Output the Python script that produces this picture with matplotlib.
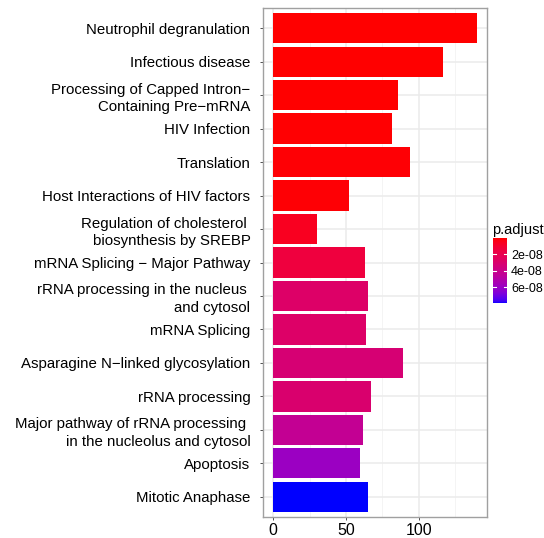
import numpy as np
import matplotlib
matplotlib.use("Agg")
import matplotlib.pyplot as plt
from matplotlib.colors import ListedColormap, Normalize

plt.rcParams['font.family'] = ['Liberation Sans', 'DejaVu Sans']

# enriched pathways, top to bottom
pathways = [
    "Neutrophil degranulation",
    "Infectious disease",
    "Processing of Capped Intron\u2212\nContaining Pre\u2212mRNA",
    "HIV Infection",
    "Translation",
    "Host Interactions of HIV factors",
    "Regulation of cholesterol \nbiosynthesis by SREBP",
    "mRNA Splicing \u2212 Major Pathway",
    "rRNA processing in the nucleus \nand cytosol",
    "mRNA Splicing",
    "Asparagine N\u2212linked glycosylation",
    "rRNA processing",
    "Major pathway of rRNA processing \nin the nucleolus and cytosol",
    "Apoptosis",
    "Mitotic Anaphase",
]
gene_count = [140, 117, 86, 82, 94, 52, 30, 63, 65, 64, 89, 67, 62, 60, 65]
p_adjust = [1.0e-10, 2.0e-10, 4.0e-10, 6.0e-10, 8.0e-10, 1.0e-09,
            5.5e-09, 1.4e-08, 2.8e-08, 2.8e-08, 3.2e-08, 3.0e-08,
            4.3e-08, 5.9e-08, 7.9e-08]
cbar_ticks = [2e-08, 4e-08, 6e-08]
cbar_ticklabels = ["2e-08", "4e-08", "6e-08"]
x_ticks = [0, 50, 100]


def srgb_to_lab(rgb):
    c = np.asarray(rgb, dtype=float)
    c = np.where(c <= 0.04045, c / 12.92, ((c + 0.055) / 1.055) ** 2.4)
    m = np.array([[0.4124, 0.3576, 0.1805],
                  [0.2126, 0.7152, 0.0722],
                  [0.0193, 0.1192, 0.9505]])
    xyz = m @ c / np.array([0.95047, 1.0, 1.08883])
    f = np.where(xyz > 0.008856, np.cbrt(xyz), 7.787 * xyz + 16 / 116)
    return np.array([116 * f[1] - 16, 500 * (f[0] - f[1]), 200 * (f[1] - f[2])])


def lab_to_srgb(lab):
    L, a, b = lab
    fy = (L + 16) / 116
    f = np.array([fy + a / 500, fy, fy - b / 200])
    xyz = np.where(f ** 3 > 0.008856, f ** 3, (f - 16 / 116) / 7.787)
    xyz = xyz * np.array([0.95047, 1.0, 1.08883])
    m = np.array([[3.2406, -1.5372, -0.4986],
                  [-0.9689, 1.8758, 0.0415],
                  [0.0557, -0.2040, 1.0570]])
    c = m @ xyz
    c = np.where(c <= 0.0031308, 12.92 * c, 1.055 * np.clip(c, 0, None) ** (1 / 2.4) - 0.055)
    return np.clip(c, 0, 1)


# red -> blue gradient interpolated in Lab space
lab_lo, lab_hi = srgb_to_lab([1, 0, 0]), srgb_to_lab([0, 0, 1])
cmap = ListedColormap([lab_to_srgb(lab_lo + t * (lab_hi - lab_lo))
                       for t in np.linspace(0, 1, 256)])
norm = Normalize(vmin=min(p_adjust), vmax=max(p_adjust))

W, H = 544, 538
fig = plt.figure(figsize=(W / 100, H / 100), dpi=100)
ax = fig.add_axes([263 / W, 1 - 517 / H, 224 / W, 509 / H])

n = len(pathways)
ypos = np.arange(n)[::-1]
xmax = max(gene_count)
ax.set_xlim(-0.05 * xmax, 1.05 * xmax)
ax.set_ylim(-0.6, n - 0.4)

ax.set_axisbelow(True)
for v in [25, 75, 125]:
    ax.axvline(v, color='#F2F2F2', lw=0.6, zorder=0)
for v in x_ticks:
    ax.axvline(v, color='#EBEBEB', lw=1.1, zorder=0)
for y in ypos:
    ax.axhline(y, color='#EBEBEB', lw=1.1, zorder=0)

ax.barh(ypos, gene_count, height=0.9, color=cmap(norm(p_adjust)), zorder=2)

ax.set_yticks(ypos)
ax.set_yticklabels(pathways, fontsize=10.8, color='black', linespacing=1.3)
ax.set_xticks(x_ticks)
ax.set_xticklabels([str(v) for v in x_ticks], fontsize=11.5, color='black')
ax.tick_params(axis='both', length=2.5, width=0.6, color='#333333')
ax.tick_params(axis='y', pad=6.5)
ax.tick_params(axis='x', pad=2)
for s in ax.spines.values():
    s.set_color('#A0A0A0')
    s.set_linewidth(1.0)

# colour bar legend (low p-values at the top)
cax = fig.add_axes([493 / W, 1 - 303 / H, 14 / W, 65 / H])
grad = np.linspace(norm.vmin, norm.vmax, 200)
cax.pcolormesh([0, 1], grad, grad[:-1, None], cmap=cmap, norm=norm, shading='flat')
cax.set_xlim(0, 1)
cax.set_ylim(norm.vmax, norm.vmin)
for t in cbar_ticks:
    cax.plot([0, 0.2], [t, t], color='white', lw=0.8)
    cax.plot([0.8, 1], [t, t], color='white', lw=0.8)
cax.set_xticks([])
cax.yaxis.tick_right()
cax.set_yticks(cbar_ticks)
cax.set_yticklabels(cbar_ticklabels, fontsize=9)
cax.tick_params(axis='y', length=0, pad=3)
for s in cax.spines.values():
    s.set_visible(False)
fig.text(492 / W, 1 - 234 / H, "p.adjust", fontsize=10.5, ha='left', va='baseline')

fig.savefig("out.png", dpi=100)
